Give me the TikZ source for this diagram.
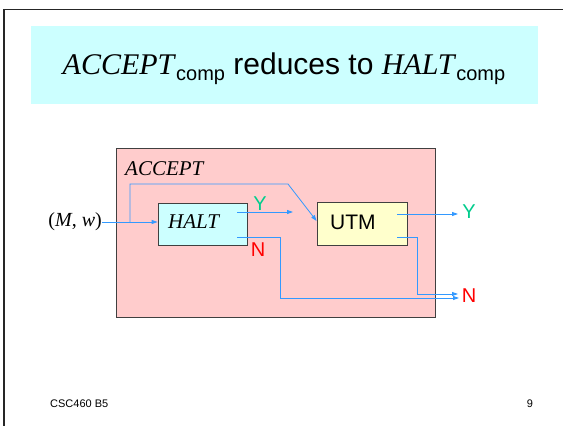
\documentclass[tikz,border=0pt]{standalone}
\usepackage{fontspec}
\setmainfont{Liberation Serif}
\setsansfont{Liberation Sans}
\usetikzlibrary{arrows.meta,calc}
\definecolor{pinkbg}{HTML}{FFCCCC}
\definecolor{cyanbg}{HTML}{CCFFFF}
\definecolor{yellowbg}{HTML}{FFFFCC}
\definecolor{linkblue}{RGB}{51,153,255}
\definecolor{ygreen}{RGB}{0,204,140}
\definecolor{nred}{RGB}{255,0,0}
\begin{document}
\begin{tikzpicture}[x=1pt,y=-1pt,
  boxstyle/.style={draw=black!75, line width=0.8pt, inner sep=0pt},
  conn/.style={draw=linkblue, line width=0.8pt},
  arr/.style={conn, -{Triangle[length=6pt,width=4pt]}},
  serifit/.style={font=\fontsize{21}{25}\selectfont\itshape, inner sep=0pt},
  sanslab/.style={font=\sffamily\fontsize{20}{24}\selectfont, inner sep=0pt},
  foot/.style={font=\sffamily\fontsize{11}{13}\selectfont, inner sep=0pt}]
\useasboundingbox (0,0) rectangle (563,426);
\fill[white] (0,0) rectangle (563,426);
\draw[line width=1.6pt, black!85] (4,430) -- (4,9.5) -- (566,9.5);
% title band
\node[fill=cyanbg, minimum width=507pt, minimum height=78pt, inner sep=0pt, anchor=north west] (band) at (31,26) {};
\node[inner sep=0pt, anchor=base] (title) at (284,74)
  {\fontsize{30}{36}\selectfont\textit{ACCEPT}\raisebox{-6pt}{\sffamily\fontsize{20}{24}\selectfont comp}\sffamily{} reduces to \rmfamily\textit{HALT}\raisebox{-6pt}{\sffamily\fontsize{20}{24}\selectfont comp}};
% ACCEPT box
\node[boxstyle, fill=pinkbg, minimum width=319pt, minimum height=169pt] (accept) at (275.5,232.5) {};
\node[serifit, anchor=base west] (acceptlabel) at (125,175) {ACCEPT};
% HALT box
\node[boxstyle, fill=cyanbg, minimum width=89pt, minimum height=42pt] (halt) at (202.5,224) {};
\node[serifit, anchor=base west] (haltlabel) at (168,228) {HALT};
% UTM box
\node[boxstyle, fill=yellowbg, minimum width=90pt, minimum height=43pt] (utm) at (362,223.5) {};
\node[sanslab, font=\sffamily\fontsize{21}{25}\selectfont, anchor=base west] (utmlabel) at (330,229) {UTM};
% input
\node[inner sep=0pt, font=\fontsize{20}{24}\selectfont, anchor=east] (inp) at (102,222) {(\textit{M}, \textit{w})};
% labels
\node[sanslab, text=ygreen] (hy) at (260,203.5) {Y};
\node[sanslab, text=nred] (hn) at (258,250) {N};
\node[sanslab, text=ygreen] (uy) at (469,212) {Y};
\node[sanslab, text=nred] (un) at (469,296) {N};
\node[foot, anchor=west] (course) at (50,404) {CSC460 B5};
\node[foot] (page) at (530,404) {9};
% coordinates
\coordinate (brtop) at (130,184);
\coordinate (bend) at (288,184);
\coordinate (utmin) at ($(utm.west)+(0,-2.5)$);
\coordinate (hy0) at ($(halt.east)+(-10,-12)$);
\coordinate (hy1) at (293,212);
\coordinate (hn0) at ($(halt.east)+(-10,13)$);
\coordinate (hnx) at (280,0);
\coordinate (hnend) at (459,298);
\coordinate (uy0) at ($(utm.east)+(-10,-9.5)$);
\coordinate (uy1) at (458,214);
\coordinate (un0) at ($(utm.east)+(-10,13.5)$);
\coordinate (unx) at (417,0);
\coordinate (unend) at (458,294);
% connectors
\draw[arr] (inp.east) -- (inp.east -| halt.west);
\draw[arr] (inp.east -| brtop) -- (brtop) -- (bend) -- (utmin);
\draw[arr] (hy0) -- (hy1);
\draw[arr] (hn0) -- (hn0 -| hnx) -- (hnend -| hnx) -- (hnend);
\draw[arr] (uy0) -- (uy1);
\draw[arr] (un0) -- (un0 -| unx) -- (unend -| unx) -- (unend);
\end{tikzpicture}
\end{document}
